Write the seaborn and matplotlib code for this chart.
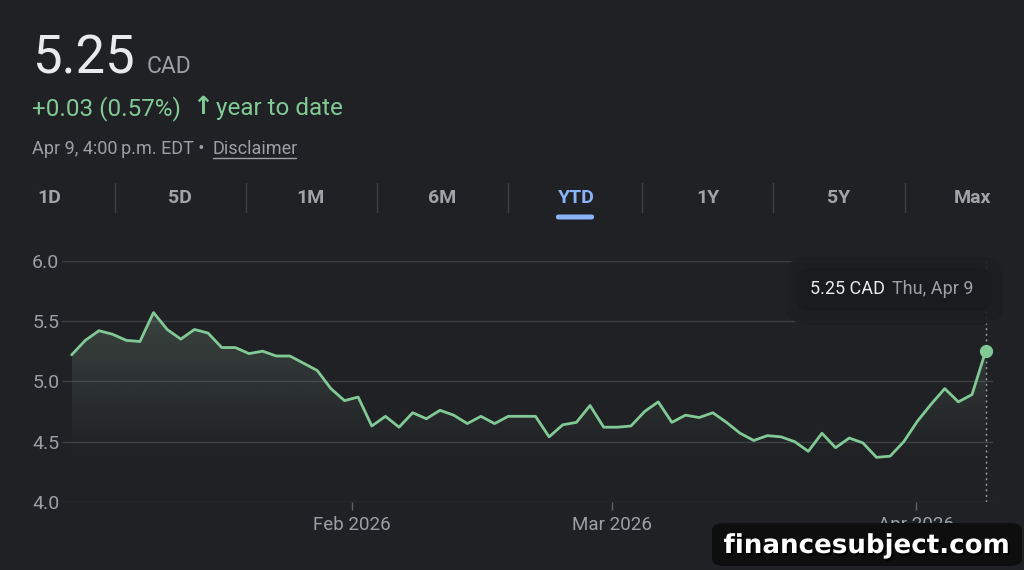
import matplotlib
matplotlib.use("Agg")
import matplotlib.pyplot as plt
import matplotlib.patheffects as pe
from matplotlib.patches import FancyBboxPatch
from matplotlib.lines import Line2D
import numpy as np
import pandas as pd
import seaborn as sns

# daily closes, CAD
jan_prices = [5.22, 5.34, 5.42, 5.39, 5.34, 5.33, 5.57, 5.43, 5.35, 5.43, 5.40,
              5.28, 5.28, 5.23, 5.25, 5.21, 5.21, 5.15, 5.09, 4.94, 4.84]
feb_prices = [4.87, 4.63, 4.71, 4.62, 4.74, 4.69, 4.76, 4.72, 4.65, 4.71,
              4.65, 4.71, 4.71, 4.71, 4.54, 4.64, 4.66, 4.80, 4.62]
mar_prices = [4.62, 4.63, 4.75, 4.83, 4.66, 4.72, 4.70, 4.74, 4.66, 4.57, 4.51,
              4.55, 4.54, 4.50, 4.42, 4.57, 4.45, 4.53, 4.49, 4.37, 4.38, 4.50]
apr_prices = [4.67, 4.81, 4.94, 4.83, 4.89, 5.25]
month_labels = ["Feb 2026", "Mar 2026", "Apr 2026"]
y_ticks = [4.0, 4.5, 5.0, 5.5, 6.0]
tabs = ["1D", "5D", "1M", "6M", "YTD", "1Y", "5Y", "Max"]

prices = jan_prices + feb_prices + mar_prices + apr_prices
df = pd.DataFrame({"day": np.arange(len(prices)), "price": prices})

BG = "#202124"
GREEN = "#81c995"
GREY = "#9aa0a6"
GRID = "#3c4043"
BLUE = "#8ab4f8"

sns.set_theme(style="dark", rc={"figure.facecolor": BG, "axes.facecolor": BG})
plt.rcParams["font.family"] = ["Roboto", "DejaVu Sans"]

W, H = 1024, 570
fig = plt.figure(figsize=(W / 100, H / 100), dpi=100)


def px(x, y):
    return x / W, 1 - y / H


ax = fig.add_axes([62 / W, 68 / H, 931 / W, 241.3 / H])
sns.lineplot(data=df, x="day", y="price", ax=ax, color=GREEN, linewidth=2.0, zorder=3)

# gradient under the line
poly = ax.fill_between(df["day"], df["price"], 4.0, color="none")
yy = np.linspace(4.0, 5.6, 256)
rgba = np.zeros((256, 1, 4))
rgba[..., :3] = matplotlib.colors.to_rgb("#8fb59a")
rgba[:, 0, 3] = np.clip((yy - 4.4) / 1.2, 0, 1) * 0.24
img = ax.imshow(rgba, extent=[0, len(prices) - 1, 4.0, 5.6], origin="lower",
                aspect="auto", zorder=2)
img.set_clip_path(poly.get_paths()[0], transform=ax.transData)

last = len(prices) - 1
ax.axvline(last, color=GREY, lw=1, ls=(0, (1.5, 2.5)), zorder=4)
ax.plot(last, prices[-1], "o", ms=8.5, color=GREEN, zorder=5)

ax.set_xlim(-0.71, 67.54)
ax.set_ylim(4.0, 6.0)
ax.set_yticks(y_ticks)
ax.set_yticklabels([f"{v:.1f}" for v in y_ticks])
starts = np.cumsum([len(jan_prices), len(feb_prices), len(mar_prices)])
ax.set_xticks(starts - np.array([0.45, 0.4, 0.1]))
ax.set_xticklabels(month_labels)
ax.set_xlabel("")
ax.set_ylabel("")
ax.grid(axis="y", color=GRID, lw=1)
ax.grid(axis="x", visible=False)
for s in ax.spines.values():
    s.set_visible(False)
ax.tick_params(axis="y", length=0, pad=2, labelsize=14, labelcolor=GREY)
ax.tick_params(axis="x", length=6, width=1, color="#5f6368", pad=4,
               labelsize=13.5, labelcolor=GREY, bottom=True)

# header
fig.text(*px(32, 73), "5.25", fontsize=38, color="#e8eaed", va="baseline")
fig.text(*px(147, 73), "CAD", fontsize=16.5, color=GREY, va="baseline")
fig.text(*px(32, 115), "+0.03 (0.57%)", fontsize=17.5, color=GREEN, va="baseline")
fig.text(*px(192, 114), "\u2191", fontsize=18, fontweight="bold", family="DejaVu Sans",
         color=GREEN, va="baseline")
fig.text(*px(216, 115), "year to date", fontsize=17.5, color=GREEN, va="baseline")
fig.text(*px(32, 154), "Apr 9, 4:00\u2009p.m. EDT \u2022", fontsize=13,
         color=GREY, va="baseline")
fig.text(*px(213, 154), "Disclaimer", fontsize=13, color=GREY, va="baseline")
fig.add_artist(Line2D([213 / W, 296 / W], [1 - 157.5 / H, 1 - 157.5 / H],
                      color=GREY, lw=1))

# range tabs
tab_x = [49, 180, 311, 442, 576, 708, 839, 972]
for name, x in zip(tabs, tab_x):
    fig.text(*px(x, 198), name, fontsize=14, fontweight="bold",
             color=BLUE if name == "YTD" else "#a0a4a8", ha="center", va="center")
for x in [115, 246, 377, 508, 642, 773, 905]:
    fig.add_artist(Line2D([x / W, x / W], [1 - 183 / H, 1 - 212 / H],
                          color=GRID, lw=1))
fig.patches.append(FancyBboxPatch(px(556, 219.5), 38 / W, 5 / H,
                                  boxstyle="round,pad=0,rounding_size=0.003",
                                  transform=fig.transFigure, fc=BLUE, ec="none"))

# tooltip
fig.patches.append(FancyBboxPatch(px(786, 325), 217 / W, 69 / H,
                                  boxstyle="round,pad=0,rounding_size=0.03",
                                  transform=fig.transFigure, fc="#1d1e21",
                                  ec="none", alpha=0.9, zorder=5))
fig.patches.append(FancyBboxPatch(px(797, 311), 195 / W, 43 / H,
                                  boxstyle="round,pad=0,rounding_size=0.018",
                                  transform=fig.transFigure, fc="#1a1b1e",
                                  ec="none", alpha=0.92, zorder=6))
fig.text(*px(810, 289), "5.25 CAD", fontsize=13, color="#e8eaed", va="center", zorder=7)
fig.text(*px(892, 289), "Thu, Apr 9", fontsize=13, color=GREY, va="center", zorder=7)

# watermark
fig.patches.append(FancyBboxPatch(px(712, 566), 310 / W, 43 / H,
                                  boxstyle="round,pad=0,rounding_size=0.012",
                                  transform=fig.transFigure, fc="#0e0e0f",
                                  ec="none", zorder=8))
fig.text(*px(867, 546), "financesubject.com", fontsize=18.8, fontweight="bold",
         family="DejaVu Sans", color="white", ha="center", va="center", zorder=9,
         path_effects=[pe.SimplePatchShadow(offset=(1.5, -1.5), shadow_rgbFace="black",
                                            alpha=0.9), pe.Normal()])

fig.savefig("out.png", dpi=100, facecolor=BG)
